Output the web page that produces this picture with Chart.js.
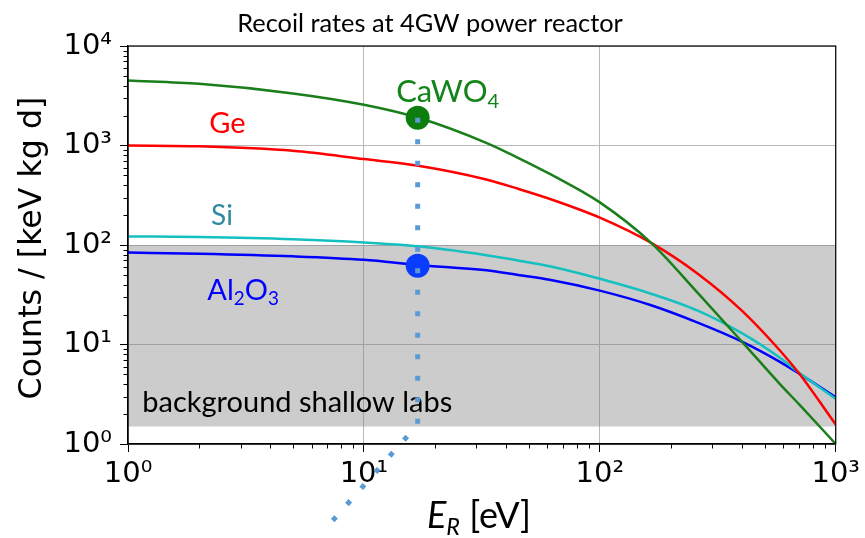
<!DOCTYPE html>
<html>
<head>
<meta charset="utf-8">
<script src="https://cdn.jsdelivr.net/npm/chart.js@4.4.1/dist/chart.umd.min.js"></script>
<style>
  html, body { margin: 0; padding: 0; background: #fff; }
</style>
</head>
<body>
<canvas id="graphBox" width="865" height="538"></canvas>
<script>
// Recoil energies (eV) the curves are read at
const energies = [1, 2, 5, 10, 17, 33, 45, 62, 100, 165, 260, 400, 580, 700, 1000];

// Counts / [keV kg d]
const caWO4 = [4500, 4170, 3340, 2570, 1900, 1065, 753, 512, 268, 105, 33, 10.7, 4.0, 2.5, 1.0];
const ge    = [1000, 982, 885, 730, 625, 455, 367, 288, 188, 105, 51.5, 21.9, 8.7, 5.1, 1.57];
const si    = [122, 120, 114, 106, 97, 79, 70, 60.8, 45.8, 32.4, 21.9, 13.0, 7.35, 5.2, 2.85];
const al2o3 = [84, 81.8, 77, 71, 63, 55.6, 50, 44.5, 34.8, 24.8, 16.6, 10.7, 6.7, 5.1, 2.95];

// background band of shallow labs
const bandLow = 1.5;
const bandHigh = 100;

// threshold markers
const markerEnergy = 16.9;
const markerCaWO4 = 1900;
const markerAl2O3 = 62;

// dotted pointer (goes below the axis, like the slide)
const pointerE = [16.9, 16.9, 6.9];
const pointerV = [1900, 1.57, 0.142];

const xTickValues = [1, 10, 100, 1000];
const xTickLabels = ['10⁰', '10¹', '10²', '10³'];
const yTickValues = [1, 10, 100, 1000, 10000];
const yTickLabels = ['10⁰', '10¹', '10²', '10³', '10⁴'];

const toXY = (xs, ys) => xs.map((x, i) => ({ x: x, y: ys[i] }));

function fitFont(ctx, text, style, family, width) {
    ctx.font = style + ' 20px ' + family;
    return 20 * width / ctx.measureText(text).width;
}

// draws text parts, some of them subscripts
function drawParts(ctx, parts, x, y, size, family, color) {
    ctx.fillStyle = color;
    ctx.textBaseline = 'alphabetic';
    ctx.textAlign = 'left';
    let cx = x;
    parts.forEach(p => {
        const s = p.sub ? size * 0.65 : size;
        ctx.font = (p.italic ? 'italic ' : '') + s + 'px ' + family;
        ctx.fillText(p.t, cx, y + (p.sub ? size * 0.2 : 0));
        cx += ctx.measureText(p.t).width;
    });
}

const labelsPlugin = {
    id: 'labels',
    afterDatasetDraw(chart, args) {
        if (args.meta.label !== 'band') return;
        const { ctx, scales: { x, y } } = chart;
        ctx.save();
        const fam = 'Lato';
        drawParts(ctx, [{ t: 'CaWO' }, { t: '4', sub: true }], x.getPixelForValue(13.7), y.getPixelForValue(2750), 31, fam, '#13841a');
        drawParts(ctx, [{ t: 'Ge' }], x.getPixelForValue(2.21), y.getPixelForValue(1340), 29, fam, '#ff0000');
        drawParts(ctx, [{ t: 'Si' }], x.getPixelForValue(2.25), y.getPixelForValue(160), 28, fam, '#2f8aa0');
        drawParts(ctx, [{ t: 'Al' }, { t: '2', sub: true }, { t: 'O' }, { t: '3', sub: true }], x.getPixelForValue(2.17), y.getPixelForValue(28.3), 29, fam, '#0000ff');
        const bg = 'background shallow labs';
        const bgSize = fitFont(ctx, bg, '', fam, 310);
        drawParts(ctx, [{ t: bg }], x.getPixelForValue(1.15), y.getPixelForValue(2.12), bgSize, fam, '#000');
        ctx.restore();
    },
    afterDraw(chart) {
        const { ctx, chartArea: a, scales: { x, y } } = chart;
        ctx.save();
        // frame
        ctx.strokeStyle = '#000';
        ctx.lineWidth = 1.2;
        ctx.strokeRect(a.left, a.top, a.right - a.left, a.bottom - a.top);
        // minor ticks
        ctx.lineWidth = 1;
        ctx.beginPath();
        [1, 10, 100].forEach(d => {
            for (let m = 2; m < 10; m++) {
                const px = Math.round(x.getPixelForValue(d * m)) + 0.5;
                ctx.moveTo(px, a.bottom);
                ctx.lineTo(px, a.bottom + 4.5);
            }
        });
        [1, 10, 100, 1000].forEach(d => {
            for (let m = 2; m < 10; m++) {
                const py = Math.round(y.getPixelForValue(d * m)) + 0.5;
                ctx.moveTo(a.left, py);
                ctx.lineTo(a.left - 4.5, py);
            }
        });
        ctx.stroke();

        // title
        const title = 'Recoil rates at 4GW power reactor';
        const tSize = fitFont(ctx, title, '', 'Lato', 386);
        ctx.font = tSize + 'px Lato';
        ctx.fillStyle = '#000';
        ctx.textAlign = 'center';
        ctx.textBaseline = 'alphabetic';
        ctx.fillText(title, 430, 32);

        // y axis title
        const yt = 'Counts / [keV kg d]';
        const ySize = fitFont(ctx, yt, '', 'DejaVu Sans', 303);
        ctx.save();
        ctx.translate(33, 248);
        ctx.rotate(-Math.PI / 2);
        ctx.font = ySize + 'px DejaVu Sans';
        ctx.textAlign = 'center';
        ctx.textBaseline = 'middle';
        ctx.fillText(yt, 0, 0);
        ctx.restore();

        // x axis title
        drawParts(ctx, [{ t: 'E', italic: true }, { t: 'R', italic: true, sub: true }, { t: ' [eV]' }], 427, 528, 36, 'Lato', '#000');
        ctx.restore();
    }
};

const lineStyle = (label, data, color) => ({
    label: label,
    data: data,
    borderColor: color,
    backgroundColor: color,
    borderWidth: 2.5,
    pointRadius: 0,
    fill: false,
    cubicInterpolationMode: 'monotone',
    order: 2
});

Chart.defaults.font.family = 'DejaVu Sans';
Chart.defaults.color = '#000';

const ctx = document.getElementById('graphBox').getContext('2d');
new Chart(ctx, {
    type: 'line',
    data: {
        datasets: [
            {
                label: 'pointer',
                data: toXY(pointerE, pointerV),
                borderColor: '#5b9bd5',
                borderWidth: 5,
                borderDash: [5, 16.5],
                pointRadius: 0,
                fill: false,
                clip: false,
                tension: 0,
                order: 0
            },
            {
                label: 'markers',
                data: toXY([markerEnergy, markerEnergy], [markerCaWO4, markerAl2O3]),
                showLine: false,
                pointRadius: 12,
                pointBackgroundColor: ['#0d7d0d', '#0a3cff'],
                pointBorderWidth: 0,
                order: 1
            },
            lineStyle('CaWO4', toXY(energies, caWO4), '#1a7f1a'),
            lineStyle('Ge', toXY(energies, ge), '#ff0000'),
            lineStyle('Si', toXY(energies, si), '#14c0c0'),
            lineStyle('Al2O3', toXY(energies, al2o3), '#0000ff'),
            {
                label: 'band',
                data: toXY([1, 1000], [bandHigh, bandHigh]),
                borderWidth: 0,
                pointRadius: 0,
                fill: { value: bandLow },
                backgroundColor: 'rgba(128,128,128,0.4)',
                order: 10
            }
        ]
    },
    options: {
        responsive: false,
        animation: false,
        events: [],
        layout: { padding: { left: 0, top: 46, right: 27, bottom: 0 } },
        plugins: { legend: { display: false }, tooltip: { enabled: false } },
        scales: {
            x: {
                type: 'logarithmic',
                min: 1,
                max: 1000,
                afterFit: s => { s.height = 94; },
                afterBuildTicks: s => { s.ticks = xTickValues.map(v => ({ value: v, major: true })); },
                ticks: {
                    autoSkip: false,
                    maxRotation: 0,
                    padding: 5,
                    font: { size: 29 },
                    callback: v => xTickLabels[xTickValues.indexOf(v)]
                },
                grid: { color: '#b8b8b8', lineWidth: 1, tickLength: 8, tickColor: '#000' },
                border: { color: '#000', width: 1.2 }
            },
            y: {
                type: 'logarithmic',
                min: 1,
                max: 10000,
                afterFit: s => { s.width = 128; },
                afterBuildTicks: s => { s.ticks = yTickValues.map(v => ({ value: v, major: true })); },
                ticks: {
                    autoSkip: false,
                    padding: 8,
                    font: { size: 29 },
                    callback: v => yTickLabels[yTickValues.indexOf(v)]
                },
                grid: { color: '#b8b8b8', lineWidth: 1, tickLength: 8, tickColor: '#000' },
                border: { color: '#000', width: 1.2 }
            }
        }
    },
    plugins: [labelsPlugin]
});
</script>
</body>
</html>
